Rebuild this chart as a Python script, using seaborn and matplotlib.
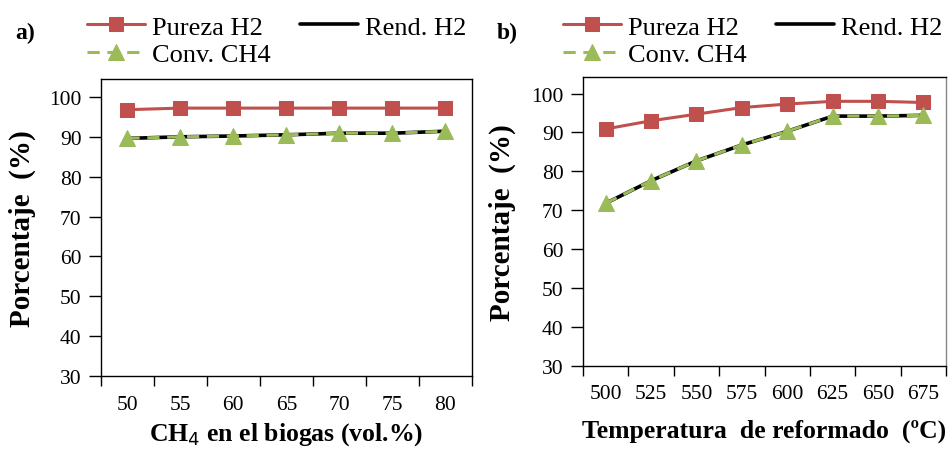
import numpy as np
import pandas as pd
import seaborn as sns
import matplotlib.pyplot as plt

# panel a) CH4 content in biogas
ch4 = ['50', '55', '60', '65', '70', '75', '80']
pureza_a = [96.8, 97.2, 97.2, 97.2, 97.2, 97.2, 97.2]
rend_a = [89.6, 90.0, 90.2, 90.5, 90.9, 90.9, 91.4]
conv_a = [89.6, 90.0, 90.2, 90.5, 90.9, 90.9, 91.4]

# panel b) reforming temperature
temp = ['500', '525', '550', '575', '600', '625', '650', '675']
pureza_b = [90.9, 93.0, 94.7, 96.4, 97.3, 98.0, 98.0, 97.7]
rend_b = [71.8, 77.6, 82.7, 86.8, 90.3, 94.2, 94.2, 94.4]
conv_b = [71.8, 77.6, 82.7, 86.8, 90.3, 94.2, 94.2, 94.4]

sns.set_style('white')
plt.rcParams['font.family'] = ['Liberation Serif', 'DejaVu Serif']
plt.rcParams.update({'text.color': 'black', 'axes.labelcolor': 'black',
                     'xtick.color': 'black', 'ytick.color': 'black'})

RED = '#C0504D'
GREEN = '#9BBB59'


def panel(ax, cats, pureza, rend, conv, xlabel, ymax, xpad, tickpad, ylab_x):
    df = pd.DataFrame({'x': cats, 'pureza': pureza, 'rend': rend, 'conv': conv})
    sns.lineplot(data=df, x='x', y='pureza', ax=ax, color=RED, lw=2.2,
                 marker='s', markersize=10.5, markeredgecolor=RED,
                 label='Pureza H2', sort=False)
    sns.lineplot(data=df, x='x', y='rend', ax=ax, color='black', lw=2.6,
                 label='Rend. H2', sort=False)
    sns.lineplot(data=df, x='x', y='conv', ax=ax, color=GREEN, lw=2.2,
                 marker='^', markersize=11, markeredgecolor=GREEN,
                 dashes=(4, 2.5), label='Conv. CH4', sort=False)
    n = len(cats)
    ax.set_xlim(-0.5, n - 0.5)
    ax.set_ylim(30, ymax)
    ax.set_yticks(range(30, 101, 10))
    ax.set_xticks(np.arange(n + 1) - 0.5)
    ax.set_xticklabels([])
    ax.set_xticks(np.arange(n), minor=True)
    ax.set_xticklabels(cats, minor=True)
    ax.tick_params(axis='x', which='major', direction='out', length=7,
                   width=1, color='black', bottom=True)
    ax.tick_params(axis='x', which='minor', length=0, pad=tickpad, labelsize=15.5)
    ax.tick_params(axis='y', direction='out', length=9, width=1,
                   color='black', left=True, labelsize=15.5, pad=5)
    for s in ax.spines.values():
        s.set_color('black')
        s.set_linewidth(1.0)
    ax.set_xlabel(xlabel, fontsize=18.5, fontweight='bold', labelpad=xpad)
    ax.set_ylabel('Porcentaje  (%)', fontsize=21, fontweight='bold')
    ax.yaxis.set_label_coords(ylab_x, 0.5)
    ax.get_legend().remove()
    h, l = ax.get_legend_handles_labels()
    order = [0, 2, 1]
    return [h[i] for i in order], [l[i] for i in order]


fig = plt.figure(figsize=(9.49, 4.52), dpi=100)
ax1 = fig.add_axes([0.1064, 0.166, 0.3906, 0.657])
ax2 = fig.add_axes([0.6143, 0.188, 0.3827, 0.639])

legend_kw = dict(ncol=2, loc='center left', frameon=False, fontsize=19,
                 handlelength=2.2, handletextpad=0.27, columnspacing=1.1,
                 labelspacing=0.15, borderaxespad=0, borderpad=0)

h, l = panel(ax1, ch4, pureza_a, rend_a, conv_a, 'CH$_4$ en el biogas (vol.%)',
             104.5, xpad=4, tickpad=14, ylab_x=-0.174)
fig.legend(h, l, bbox_to_anchor=(0.0917, 0.908), **legend_kw)

h, l = panel(ax2, temp, pureza_b, rend_b, conv_b, 'Temperatura  de reformado  (ºC)',
             104.2, xpad=11.5, tickpad=13, ylab_x=-0.184)
ax2.spines['right'].set_color('#888888')
fig.legend(h, l, bbox_to_anchor=(0.593, 0.908), **legend_kw)

fig.text(0.016, 0.927, 'a)', fontsize=17, fontweight='bold', va='center')
fig.text(0.523, 0.927, 'b)', fontsize=17, fontweight='bold', va='center')

fig.savefig('out.png', dpi=100)
